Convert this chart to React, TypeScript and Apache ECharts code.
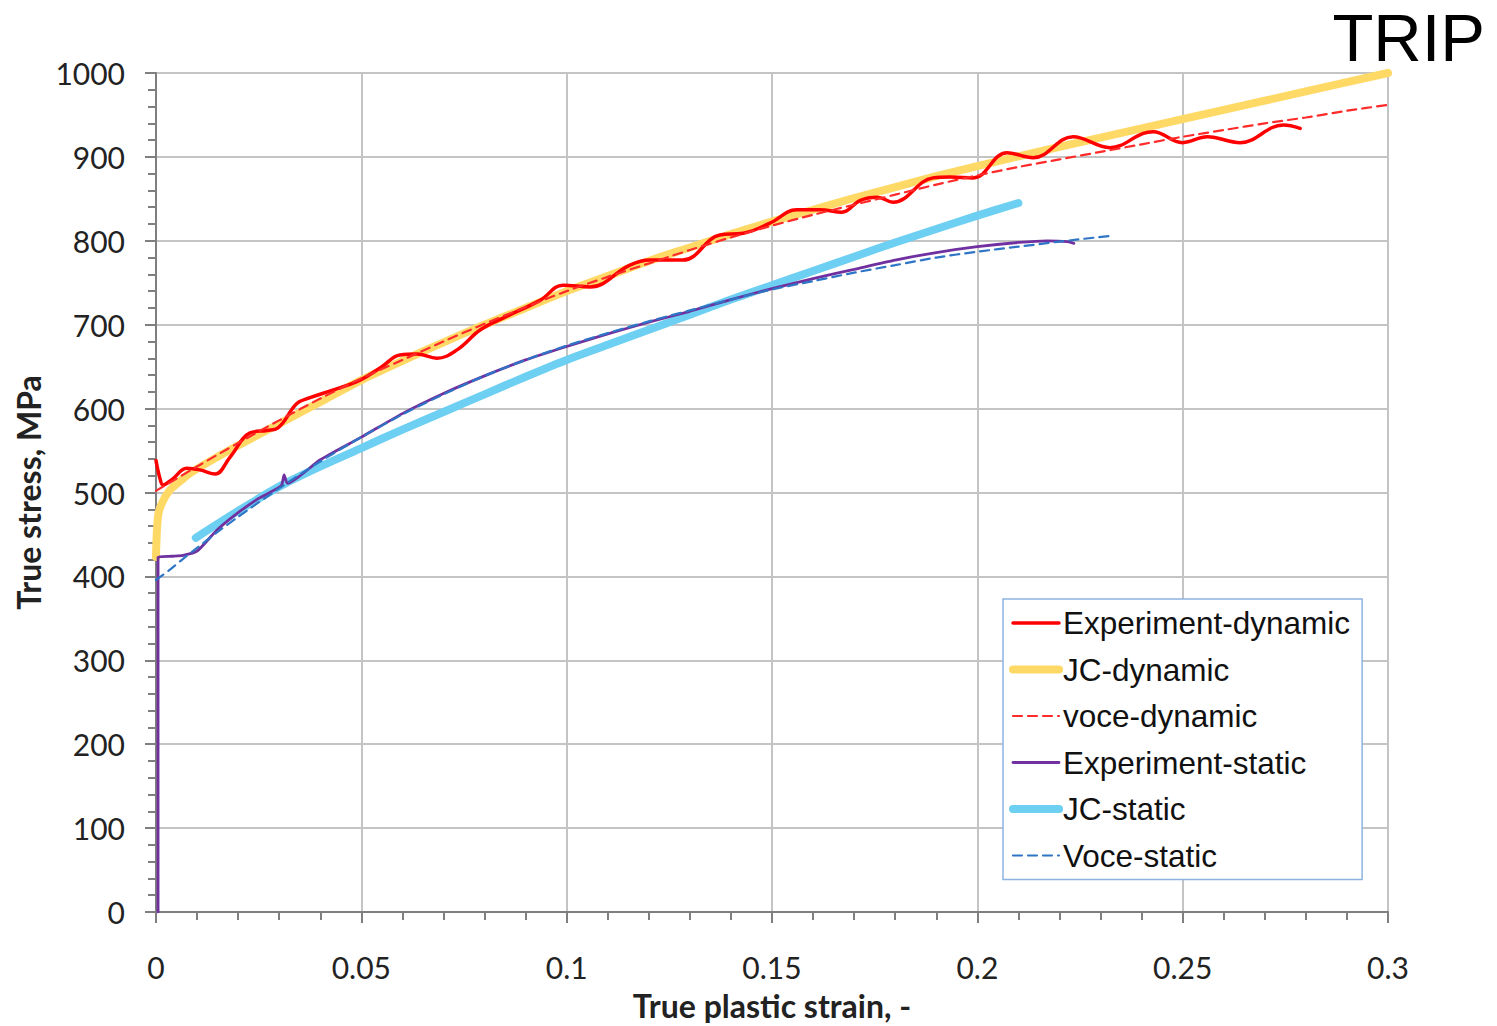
import React, { useEffect, useRef } from "react";
import * as echarts from "echarts";

// ---- data (true plastic strain, true stress MPa) ----
const expDynamic: [number, number][] = [
  [0, 538], [0.001, 516], [0.0017, 509], [0.004, 516], [0.0075, 529], [0.0107, 527], [0.0144, 522],
  [0.018, 542], [0.0229, 571], [0.027, 574], [0.0297, 577], [0.0343, 606], [0.0375, 613],
  [0.043, 622], [0.0497, 634], [0.055, 650], [0.0594, 664], [0.0636, 665], [0.0684, 660],
  [0.0733, 670], [0.079, 694], [0.085, 709], [0.0935, 729], [0.0991, 747], [0.1057, 745],
  [0.1154, 771], [0.1203, 777], [0.1283, 777], [0.1373, 807], [0.143, 809], [0.1495, 821],
  [0.156, 837], [0.1617, 837], [0.167, 834], [0.1714, 848], [0.1756, 852], [0.1795, 846],
  [0.1892, 875], [0.1934, 876], [0.199, 875], [0.2072, 905], [0.2136, 899], [0.2233, 924],
  [0.2323, 911], [0.2404, 928], [0.2428, 930], [0.25, 917], [0.256, 924], [0.264, 917],
  [0.2745, 938], [0.2786, 934],
];
const jcDynamic: [number, number][] = [
  [0, 423], [0.0005, 472], [0.0015, 488], [0.0034, 503], [0.006, 514], [0.0083, 523],
  [0.0148, 542], [0.02, 556], [0.03, 582], [0.04, 608], [0.05, 634], [0.06, 657], [0.07, 679],
  [0.08, 700], [0.09, 720], [0.1, 740], [0.11, 758], [0.12, 776], [0.13, 792], [0.14, 808],
  [0.15, 823], [0.16, 837], [0.17, 851], [0.18, 864], [0.19, 877], [0.2, 889], [0.22, 912],
  [0.24, 934], [0.26, 956], [0.28, 978], [0.3, 1000],
];
const voceDynamic: [number, number][] = [
  [0, 502], [0.01, 531], [0.02, 559], [0.03, 586], [0.04, 612], [0.05, 636], [0.06, 658],
  [0.07, 680], [0.08, 701], [0.09, 721], [0.1, 740], [0.11, 757], [0.12, 773], [0.13, 789],
  [0.14, 804], [0.15, 818], [0.16, 831], [0.17, 843], [0.18, 855], [0.19, 867], [0.2, 878],
  [0.21, 888], [0.22, 897], [0.23, 906], [0.24, 915], [0.25, 924], [0.26, 932], [0.27, 940],
  [0.28, 947], [0.29, 955], [0.3, 962],
];
const expStatic: [number, number][] = [
  [0.0005, 0], [0.0005, 423], [0.004, 424], [0.0066, 425], [0.01, 430], [0.0148, 455],
  [0.02, 476], [0.025, 493], [0.0305, 508], [0.0312, 521], [0.032, 511], [0.04, 539],
  [0.05, 566], [0.06, 594], [0.07, 618], [0.08, 639], [0.09, 658], [0.1, 674], [0.11, 689],
  [0.12, 703], [0.13, 716], [0.14, 730], [0.15, 743], [0.16, 755], [0.17, 766], [0.18, 777],
  [0.19, 786], [0.2, 793], [0.21, 798], [0.217, 800], [0.222, 799], [0.2235, 797],
];
const jcStatic: [number, number][] = [
  [0.0097, 446], [0.02, 478], [0.03, 507], [0.04, 531], [0.05, 553], [0.06, 575], [0.07, 596],
  [0.08, 617], [0.09, 638], [0.1, 658], [0.11, 676], [0.12, 694], [0.13, 712], [0.14, 730],
  [0.15, 747], [0.16, 764], [0.17, 781], [0.18, 798], [0.19, 814], [0.2, 830], [0.21, 845],
];
const voceStatic: [number, number][] = [
  [0, 396], [0.0034, 408], [0.0066, 421], [0.01, 434], [0.015, 453], [0.02, 471], [0.03, 505],
  [0.04, 537], [0.05, 566], [0.06, 593], [0.07, 617], [0.08, 639], [0.09, 658], [0.1, 675],
  [0.11, 690], [0.12, 704], [0.13, 717], [0.14, 730], [0.15, 742], [0.16, 752], [0.17, 762],
  [0.18, 771], [0.19, 780], [0.2, 787], [0.21, 793], [0.22, 799], [0.2325, 806],
];

const seriesNames = [
  "Experiment-dynamic",
  "JC-dynamic",
  "voce-dynamic",
  "Experiment-static",
  "JC-static",
  "Voce-static",
];

const labelFont = "Lato";
const legendFont = "Liberation Sans";

export default function App() {
  const ref = useRef<HTMLDivElement>(null);
  useEffect(() => {
    if (!ref.current) return;
    const chart = echarts.init(ref.current, undefined, { renderer: "svg" });
    const mk = (
      name: string,
      data: [number, number][],
      color: string,
      width: number,
      type: "solid" | "dashed",
      z: number,
      smooth: number
    ) => ({
      name,
      type: "line",
      data,
      showSymbol: false,
      symbol: "none",
      smooth,
      z,
      lineStyle: {
        color,
        width,
        type: type === "dashed" ? [9, 6] : "solid",
        cap: "round",
      },
      itemStyle: { color },
    });
    chart.setOption({
      animation: false,
      backgroundColor: "#ffffff",
      title: {
        text: "TRIP",
        right: 12,
        top: 4,
        padding: 0,
        textStyle: {
          fontFamily: legendFont,
          fontSize: 67,
          fontWeight: "normal",
          color: "#000000",
        },
      },
      grid: { left: 156, right: 109, top: 73, bottom: 114, containLabel: false },
      legend: {
        orient: "vertical",
        left: 1003,
        top: 599,
        data: seriesNames,
        padding: [8, 12, 8, 6],
        itemGap: 14.5,
        itemWidth: 46,
        itemHeight: 14,
        backgroundColor: "#ffffff",
        borderColor: "#8db3e2",
        borderWidth: 1.5,
        borderRadius: 0,
        itemStyle: { opacity: 0 },
        lineStyle: { width: "inherit" },
        textStyle: {
          fontFamily: legendFont,
          fontSize: 31.5,
          lineHeight: 30,
          color: "#111111",
          padding: [0, 0, 0, -1],
        },
      },
      xAxis: {
        type: "value",
        min: 0,
        max: 0.3,
        interval: 0.05,
        name: "True plastic strain, -",
        nameLocation: "middle",
        nameGap: 77,
        nameTextStyle: { fontFamily: labelFont, fontSize: 32, fontWeight: "bold", color: "#222222" },
        axisLine: { show: true, onZero: false, lineStyle: { color: "#7f7f7f", width: 2 } },
        axisTick: { show: true, inside: false, length: 11, lineStyle: { color: "#7f7f7f", width: 2 } },
        minorTick: { show: true, splitNumber: 5, length: 8, lineStyle: { color: "#7f7f7f", width: 2 } },
        axisLabel: { margin: 40, fontFamily: labelFont, fontSize: 30, color: "#222222" },
        splitLine: { show: true, lineStyle: { color: "#c4c4c4", width: 2 } },
      },
      yAxis: {
        type: "value",
        min: 0,
        max: 1000,
        interval: 100,
        name: "True stress, MPa",
        nameLocation: "middle",
        nameGap: 112,
        nameTextStyle: { fontFamily: labelFont, fontSize: 32, fontWeight: "bold", color: "#222222" },
        axisLine: { show: true, onZero: false, lineStyle: { color: "#7f7f7f", width: 2 } },
        axisTick: { show: true, inside: false, length: 11, lineStyle: { color: "#7f7f7f", width: 2 } },
        minorTick: { show: true, splitNumber: 5, length: 8, lineStyle: { color: "#7f7f7f", width: 2 } },
        axisLabel: {
          margin: 31,
          fontFamily: labelFont,
          fontSize: 30,
          color: "#222222",
          formatter: (v: number) => String(v),
        },
        splitLine: { show: true, lineStyle: { color: "#c4c4c4", width: 2 } },
      },
      series: [
        mk(seriesNames[0], expDynamic, "#ff0000", 3.5, "solid", 4, 0.4),
        mk(seriesNames[1], jcDynamic, "#ffd966", 8, "solid", 2, 0.3),
        mk(seriesNames[2], voceDynamic, "#ff2a2a", 2.2, "dashed", 5, 0.3),
        mk(seriesNames[3], expStatic, "#7030a0", 2.8, "solid", 4, 0.2),
        mk(seriesNames[4], jcStatic, "#6dcff2", 8, "solid", 2, 0.3),
        mk(seriesNames[5], voceStatic, "#2e75c6", 2.2, "dashed", 5, 0.3),
      ],
    });
    return () => chart.dispose();
  }, []);
  return (
    <div
      ref={ref}
      style={{ position: "fixed", left: 0, top: 0, width: 1497, height: 1026 }}
    />
  );
}
